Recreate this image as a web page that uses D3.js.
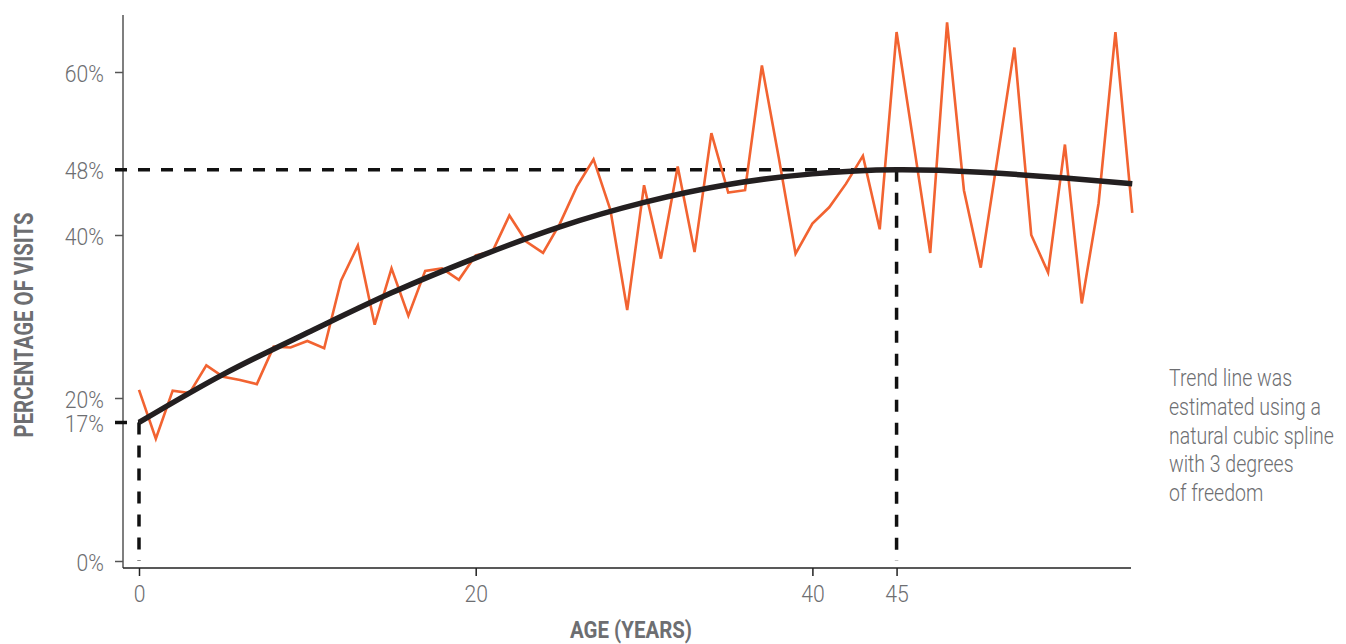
<!DOCTYPE html>
<html><head><meta charset="utf-8">
<script src="https://cdn.jsdelivr.net/npm/d3@7"></script>
<style>
body{margin:0;background:#fff;}
text{font-family:Roboto,"Liberation Sans","DejaVu Sans",sans-serif;}
</style></head>
<body><svg id="c" width="1346" height="644"></svg>
<script>
const ages = d3.range(0, 60);
const visits = [21.0,15.0,20.9,20.6,24.0,22.6,22.2,21.7,26.3,26.2,
  27.0,26.1,34.4,38.7,29.0,35.9,30.1,35.6,35.9,34.5,
  37.5,38.0,42.4,39.2,37.8,41.4,45.9,49.3,43.1,30.8,
  46.1,37.1,48.4,37.9,52.5,45.2,45.5,60.8,49.5,37.7,
  41.4,43.4,46.3,49.7,40.7,64.9,51.4,37.8,66.1,45.5,
  36.0,49.5,63.0,40.0,35.4,51.1,31.6,43.9,64.9,42.7];
const trendAges = [0,5,10,15,20,25,30,35,40,45,50,55,59];
const trendValues = [17.0,22.9,28.0,32.9,37.2,41.0,44.0,46.2,47.5,48.0,47.7,47.0,46.3];
const yTicks = [0,17,20,40,48,60];
const xTicks = [0,20,40,45];
const peakAge = 45, peakValue = 48, startAge = 0, startValue = 17;
const note = ["Trend line was","estimated using a","natural cubic spline","with 3 degrees","of freedom"];

const svg = d3.select("#c");
const x = d3.scaleLinear().domain([0,20]).range([139,475.7]);
const y = d3.scaleLinear().domain([0,60]).range([561,72]);
const xLeft = 123, xRight = 1131, yTop = 15, yBottom = 568;
const grey = "#6d6e71";

// condense text horizontally (reference uses a condensed face)
function squeeze(sel, k){
  sel.each(function(){
    const w = this.getComputedTextLength();
    d3.select(this).attr("textLength", w*k).attr("lengthAdjust","spacingAndGlyphs");
  });
}

// axes
const yAxis = svg.append("g").attr("transform",`translate(${xLeft},0)`)
  .call(d3.axisLeft(y).tickValues(yTicks).tickFormat(d=>d+"%").tickSize(8).tickSizeOuter(0));
yAxis.select(".domain").attr("d",`M0,${yTop}V${yBottom}`).attr("stroke","#555").attr("stroke-width",1.5);
yAxis.selectAll(".tick line").attr("stroke","#555").attr("stroke-width",1.5);
yAxis.selectAll(".tick text").attr("x",-19).attr("dy",null).attr("y",9).attr("fill",grey)
  .style("font-size","23px").style("font-weight","300");
squeeze(yAxis.selectAll(".tick text"), 0.92);

const xAxis = svg.append("g").attr("transform",`translate(0,${yBottom})`)
  .call(d3.axisBottom(x).tickValues(xTicks).tickSize(8).tickSizeOuter(0));
xAxis.select(".domain").attr("d",`M${xLeft},0H${xRight}`).attr("stroke","#222").attr("stroke-width",1.5);
xAxis.selectAll(".tick line").attr("stroke","#222").attr("stroke-width",1.5);
xAxis.selectAll(".tick text").attr("dy",null).attr("y",34).attr("fill",grey)
  .style("font-size","23px").style("font-weight","300");
squeeze(xAxis.selectAll(".tick text"), 0.92);

// axis titles
const yt = svg.append("text").attr("transform","translate(33,325) rotate(-90)")
  .attr("text-anchor","middle").attr("fill",grey).style("font-size","25px")
  .style("font-weight","bold").text("PERCENTAGE OF VISITS");
yt.attr("textLength",225).attr("lengthAdjust","spacingAndGlyphs");
const xt = svg.append("text").attr("x",631).attr("y",638).attr("text-anchor","middle")
  .attr("fill",grey).style("font-size","24px").style("font-weight","bold").text("AGE (YEARS)");
xt.attr("textLength",122).attr("lengthAdjust","spacingAndGlyphs");

// dashed reference lines
const dash = svg.append("g").attr("stroke","#111").attr("stroke-width",3.5)
  .attr("stroke-dasharray","12,11").attr("fill","none");
dash.append("path").attr("d",`M${xLeft-8},${y(peakValue)}H${x(peakAge)}`);
dash.append("path").attr("d",`M${x(peakAge)},${y(peakValue)}V${y(0)}`);
dash.append("path").attr("d",`M${xLeft-8},${y(startValue)}H${x(startAge)}`).attr("stroke-dasharray",null);
dash.append("path").attr("d",`M${x(startAge)},${y(startValue)}V${y(0)}`);

// orange data line
svg.append("path").datum(ages.map((a,i)=>[a,visits[i]]))
  .attr("fill","none").attr("stroke","#f26331").attr("stroke-width",2.6).attr("stroke-linejoin","miter")
  .attr("d",d3.line().x(d=>x(d[0])).y(d=>y(d[1])));

// trend line
svg.append("path").datum(trendAges.map((a,i)=>[a,trendValues[i]]))
  .attr("fill","none").attr("stroke","#231f20").attr("stroke-width",5.5)
  .attr("d",d3.line().curve(d3.curveNatural).x(d=>x(d[0])).y(d=>y(d[1])));

// note (condensed via horizontal scale of its group)
const noteG = svg.append("g").attr("transform","translate(1169,0) scale(0.83,1)");
note.forEach((s,i)=>noteG.append("text").attr("x",0).attr("y",386+i*28.8)
  .attr("fill",grey).style("font-size","23.5px").style("font-weight","300").text(s));
</script></body></html>
